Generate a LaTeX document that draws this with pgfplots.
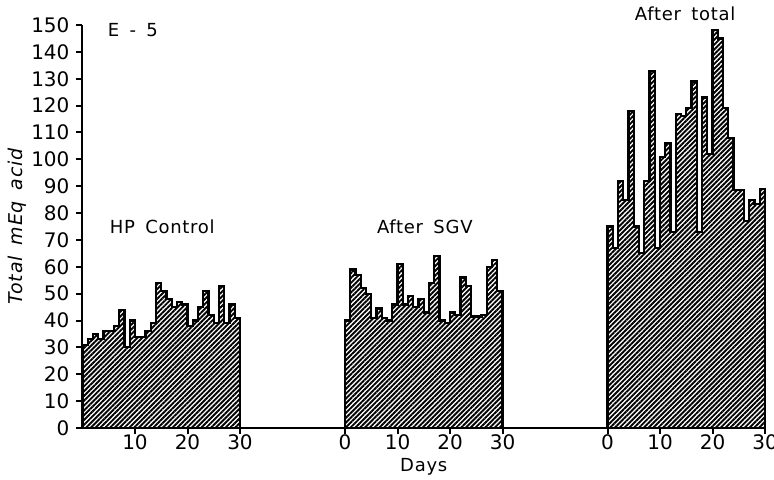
\documentclass[border=0pt]{standalone}
\usepackage{fontspec}
\setmainfont{DejaVu Sans}
\newfontfamily\labelfont[LetterSpace=4,WordSpace=1.6]{DejaVu Sans}
\usepackage{pgfplots}
\pgfplotsset{compat=1.18}
\usetikzlibrary{patterns.meta}

\begin{document}
\begin{tikzpicture}
\begin{axis}[
    name=ax,
    at={(0,0)}, anchor=south west,
    width=341.25pt, height=201.5pt, scale only axis,
    xmin=0, xmax=130, ymin=0, ymax=150,
    axis x line=bottom, axis y line=left,
    axis line style={-, line width=1pt},
    tick align=outside,
    major tick length=3pt,
    every tick/.style={black, line width=1pt},
    xtick={10,20,30,50,60,70,80,100,110,120,130},
    xticklabels={10,20,30,0,10,20,30,0,10,20,30},
    ytick={0,10,...,150},
    /pgf/number format/assume math mode=true,
    ticklabel style={font=\fontsize{10}{12}\selectfont},
    xticklabel style={yshift=3pt},
    xlabel={Days},
    xlabel style={at={(axis description cs:0.5,0)}, anchor=center, yshift=-19.5pt,
        font=\labelfont\fontsize{9}{11}\selectfont},
    ylabel={Total mEq acid},
    ylabel style={at={(axis description cs:-0.096,0.5)}, anchor=center,
        font=\labelfont\itshape\fontsize{9.5}{11}\selectfont},
    clip=false,
    hist/.style={const plot mark left, draw=black, line width=1.1pt,
        pattern={Lines[angle=45,distance=1.7pt,line width=0.95pt]}, pattern color=black},
]
% HP Control
\addplot[hist] coordinates {
(0,31) (1,33) (2,35) (3,33) (4,36) (5,36) (6,38) (7,44) (8,30) (9,40)
(10,34) (11,34) (12,36) (13,39) (14,54) (15,51) (16,48) (17,45) (18,47) (19,46)
(20,38) (21,40) (22,45) (23,51) (24,42) (25,39) (26,53) (27,39) (28,46) (29,41)
(30,41)} \closedcycle;
% After SGV
\addplot[hist] coordinates {
(50,40) (51,59) (52,57) (53,52) (54,50) (55,41) (56,44.5) (57,41) (58,40) (59,46)
(60,61) (61,46) (62,49) (63,45) (64,48) (65,43) (66,54) (67,64) (68,40) (69,39)
(70,43) (71,42) (72,56) (73,53) (74,41.5) (75,41.5) (76,42) (77,60) (78,62.5) (79,51)
(80,51)} \closedcycle;
% After total
\addplot[hist] coordinates {
(100,75) (101,67) (102,92) (103,85) (104,118) (105,75) (106,65) (107,92) (108,133) (109,67)
(110,101) (111,106) (112,73) (113,117) (114,116) (115,119) (116,129) (117,73) (118,123) (119,102)
(120,148) (121,145) (122,119) (123,108) (124,88.5) (125,88.5) (126,77) (127,85) (128,83.5) (129,89)
(130,89)} \closedcycle;

\node[font=\labelfont\fontsize{9}{11}\selectfont] at (axis cs:15.2,75) {HP Control};
\node[font=\labelfont\fontsize{9}{11}\selectfont] at (axis cs:65.2,75) {After SGV};
\node[font=\labelfont\fontsize{9}{11}\selectfont] at (axis cs:114.8,154) {After total};
\node[font=\labelfont\fontsize{9}{11}\selectfont] at (axis cs:9.6,148) {E - 5};
\end{axis}
\pgfresetboundingbox
\path ([shift={(-41.25pt,-26pt)}]ax.south west) rectangle ([shift={(345.75pt,214pt)}]ax.south west);
\end{tikzpicture}
\end{document}
